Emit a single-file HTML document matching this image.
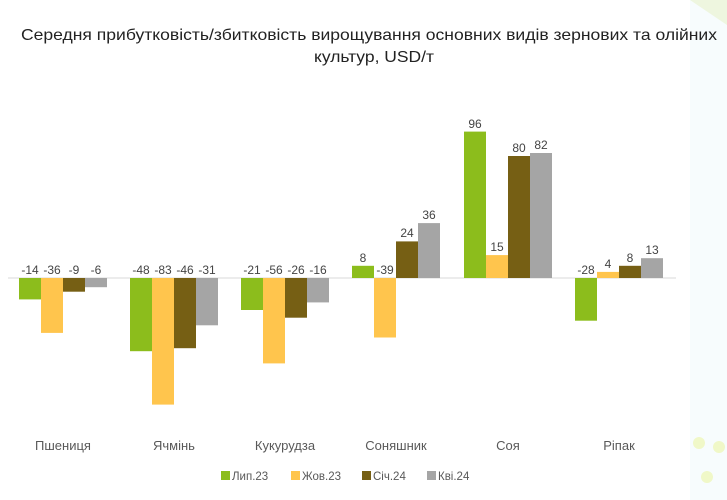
<!DOCTYPE html>
<html><head><meta charset="utf-8"><style>
html,body{margin:0;padding:0;background:#fff;}
svg{display:block;font-family:"Liberation Sans",sans-serif;}
</style></head><body>
<svg width="727" height="500" viewBox="0 0 727 500" xmlns="http://www.w3.org/2000/svg">
<rect width="727" height="500" fill="#fff"/>
<rect x="690" y="0" width="37" height="500" fill="#f7fcfd"/>
<polygon points="690,0 727,0 727,25" fill="#eef6df"/>
<circle cx="699" cy="443" r="6" fill="#f0f8c8"/>
<circle cx="719" cy="447" r="6" fill="#f0f8c8"/>
<circle cx="707" cy="477" r="6" fill="#f0f8c8"/>
<text x="369" y="40" font-size="16" fill="#222" text-anchor="middle" textLength="696" lengthAdjust="spacingAndGlyphs">Середня прибутковість/збитковість вирощування основних видів зернових та олійних</text>
<text x="374" y="62" font-size="16" fill="#222" text-anchor="middle" textLength="120" lengthAdjust="spacingAndGlyphs">культур, USD/т</text>
<line x1="8" y1="278" x2="676" y2="278" stroke="#d9d9d9" stroke-width="1"/>
<g>
<rect x="19" y="278" width="22" height="21.4" fill="#8cbd1c"/>
<rect x="41" y="278" width="22" height="54.9" fill="#ffc54d"/>
<rect x="63" y="278" width="22" height="13.7" fill="#765f14"/>
<rect x="85" y="278" width="22" height="9.2" fill="#a5a5a5"/>
<rect x="130" y="278" width="22" height="73.2" fill="#8cbd1c"/>
<rect x="152" y="278" width="22" height="126.6" fill="#ffc54d"/>
<rect x="174" y="278" width="22" height="70.2" fill="#765f14"/>
<rect x="196" y="278" width="22" height="47.3" fill="#a5a5a5"/>
<rect x="241" y="278" width="22" height="32" fill="#8cbd1c"/>
<rect x="263" y="278" width="22" height="85.4" fill="#ffc54d"/>
<rect x="285" y="278" width="22" height="39.7" fill="#765f14"/>
<rect x="307" y="278" width="22" height="24.4" fill="#a5a5a5"/>
<rect x="352" y="265.8" width="22" height="12.2" fill="#8cbd1c"/>
<rect x="374" y="278" width="22" height="59.5" fill="#ffc54d"/>
<rect x="396" y="241.4" width="22" height="36.6" fill="#765f14"/>
<rect x="418" y="223.1" width="22" height="54.9" fill="#a5a5a5"/>
<rect x="464" y="131.6" width="22" height="146.4" fill="#8cbd1c"/>
<rect x="486" y="255.1" width="22" height="22.9" fill="#ffc54d"/>
<rect x="508" y="156" width="22" height="122" fill="#765f14"/>
<rect x="530" y="153" width="22" height="125" fill="#a5a5a5"/>
<rect x="575" y="278" width="22" height="42.7" fill="#8cbd1c"/>
<rect x="597" y="271.9" width="22" height="6.1" fill="#ffc54d"/>
<rect x="619" y="265.8" width="22" height="12.2" fill="#765f14"/>
<rect x="641" y="258.2" width="22" height="19.8" fill="#a5a5a5"/>
</g>
<g font-size="12" fill="#444" text-anchor="middle">
<text x="30" y="274">-14</text><text x="52" y="274">-36</text><text x="74" y="274">-9</text><text x="96" y="274">-6</text>
<text x="141" y="274">-48</text><text x="163" y="274">-83</text><text x="185" y="274">-46</text><text x="207" y="274">-31</text>
<text x="252" y="274">-21</text><text x="274" y="274">-56</text><text x="296" y="274">-26</text><text x="318" y="274">-16</text>
<text x="363" y="262">8</text><text x="385" y="274">-39</text><text x="407" y="237">24</text><text x="429" y="219">36</text>
<text x="475" y="128">96</text><text x="497" y="251">15</text><text x="519" y="152">80</text><text x="541" y="149">82</text>
<text x="586" y="274">-28</text><text x="608" y="268">4</text><text x="630" y="262">8</text><text x="652" y="254">13</text>
</g>
<g font-size="13" fill="#595959" text-anchor="middle">
<text x="63" y="450">Пшениця</text>
<text x="174" y="450">Ячмінь</text>
<text x="285" y="450">Кукурудза</text>
<text x="396" y="450">Соняшник</text>
<text x="508" y="450">Соя</text>
<text x="619" y="450">Ріпак</text>
</g>
<g font-size="11.5" fill="#595959">
<rect x="221" y="471" width="9" height="9" fill="#8cbd1c"/><text x="232" y="480">Лип.23</text>
<rect x="291" y="471" width="9" height="9" fill="#ffc54d"/><text x="302" y="480">Жов.23</text>
<rect x="362" y="471" width="9" height="9" fill="#765f14"/><text x="373" y="480">Січ.24</text>
<rect x="427" y="471" width="9" height="9" fill="#a5a5a5"/><text x="438" y="480">Кві.24</text>
</g>
</svg>
</body></html>
